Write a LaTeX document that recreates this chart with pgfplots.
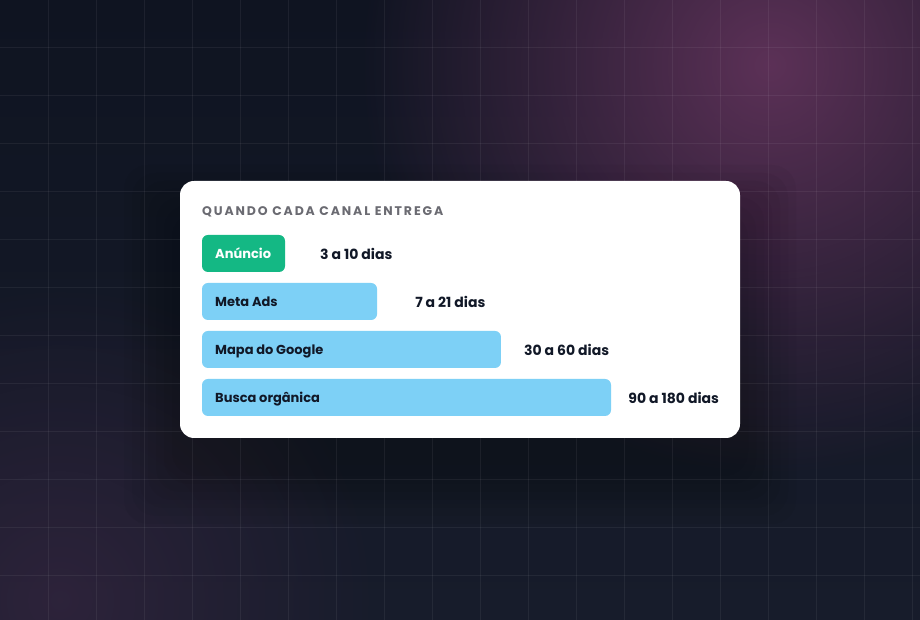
\documentclass[border=0pt]{standalone}
\usepackage{pgfplots}
\pgfplotsset{compat=1.18}
\usepackage{pgfplotstable}
\usetikzlibrary{fadings}
\usepackage{fontspec}
\setmainfont{Poppins}
\newfontfamily\titlefont{Poppins}[LetterSpace=15]

\definecolor{bgtop}{HTML}{0F1421}
\definecolor{bgbot}{HTML}{171C2B}
\definecolor{glow}{HTML}{5C3157}
\definecolor{glowb}{HTML}{3C2845}
\definecolor{verde}{HTML}{14B884}
\definecolor{azul}{HTML}{7DD0F6}
\definecolor{tinta}{HTML}{111827}
\definecolor{cinza}{HTML}{6B6B72}

\tikzfading[name=brilho, inner color=transparent!0, outer color=transparent!100]

% prazo de cada canal: comprimento da barra (% da maior) e onde fica o rotulo
\pgfplotstableread[col sep=comma]{
pos,dur,canal,prazo,rot
0,20.3,Anúncio,3 a 10 dias,28.85
1,42.8,Meta Ads,7 a 21 dias,52.1
2,73.1,Mapa do Google,30 a 60 dias,78.7
3,100,Busca orgânica,90 a 180 dias,104.2
}\canais

\begin{document}
\begin{tikzpicture}[x=1bp,y=1bp]
  \useasboundingbox (0,0) rectangle (920,620);
  \begin{scope}
    \clip (0,0) rectangle (920,620);
    \shade[top color=bgtop, bottom color=bgbot] (0,0) rectangle (920,620);
    \fill[glow, path fading=brilho] (770,555) circle (410);
    \fill[glowb, path fading=brilho, opacity=0.6] (60,20) circle (320);
    % sombra do cartao
    \foreach \d in {8,16,...,56}
      \fill[black, opacity=0.03, rounded corners=24bp]
        (180-\d,182-\d-30) rectangle (740+\d,439+\d-40);
    % grade
    \foreach \i in {1,...,19}
      \draw[white, opacity=0.06, line width=1bp] (48*\i,0) -- (48*\i,620);
    \foreach \j in {1,...,12}
      \draw[white, opacity=0.06, line width=1bp] (0,620-48*\j) -- (920,620-48*\j);
  \end{scope}

  \fill[white, rounded corners=14bp] (180,182) rectangle (740,439);

  \node[anchor=base west, inner sep=0pt, text=cinza,
        font=\titlefont\bfseries\fontsize{12.5bp}{14bp}\selectfont]
    at (202,404) {QUANDO CADA CANAL ENTREGA};

  \begin{axis}[
    at={(202bp,390.5bp)}, anchor=north west,
    x=4.09bp, y=48bp, y dir=reverse,
    xmin=0, xmax=125, ymin=-0.5, ymax=3.5,
    hide axis, clip=false,
  ]
    \addplot[xbar, bar width=37bp, bar shift=0pt, fill=verde, draw=none,
      rounded corners=6bp, skip coords between index={1}{4}]
      table[x=dur, y=pos] {\canais};
    \addplot[xbar, bar width=37bp, bar shift=0pt, fill=azul, draw=none,
      rounded corners=6bp, skip coords between index={0}{1}]
      table[x=dur, y=pos] {\canais};
    % nomes dentro das barras
    \addplot[draw=none, mark=none, skip coords between index={1}{4},
      nodes near coords, point meta=explicit symbolic,
      nodes near coords style={anchor=base west, inner sep=0pt, xshift=13bp,
        yshift=-5bp, text=white, font=\bfseries\fontsize{13bp}{15bp}\selectfont}]
      table[x expr=0, y=pos, meta=canal] {\canais};
    \addplot[draw=none, mark=none, skip coords between index={0}{1},
      nodes near coords, point meta=explicit symbolic,
      nodes near coords style={anchor=base west, inner sep=0pt, xshift=13bp,
        yshift=-5bp, text=tinta, font=\bfseries\fontsize{13bp}{15bp}\selectfont}]
      table[x expr=0, y=pos, meta=canal] {\canais};
    % prazos
    \addplot[draw=none, mark=none,
      nodes near coords, point meta=explicit symbolic,
      nodes near coords style={anchor=base west, inner sep=0pt,
        yshift=-6bp, text=tinta, font=\bfseries\fontsize{14bp}{16bp}\selectfont}]
      table[x=rot, y=pos, meta=prazo] {\canais};
  \end{axis}
\end{tikzpicture}
\end{document}
